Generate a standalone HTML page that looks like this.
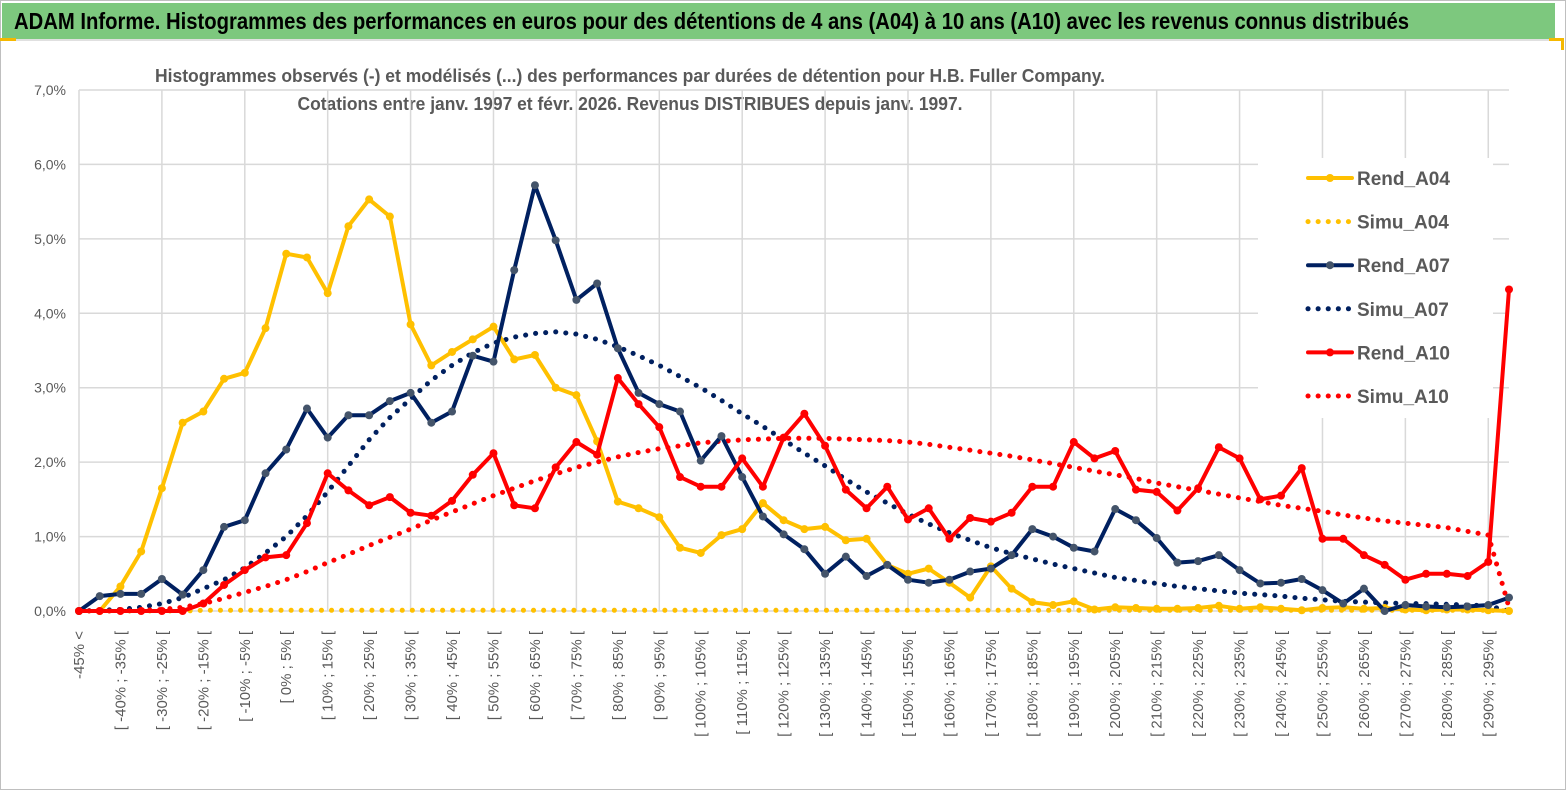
<!DOCTYPE html>
<html><head><meta charset="utf-8"><style>
body{margin:0;background:#fff;}
svg{display:block;font-family:"Liberation Sans",sans-serif;}
</style></head><body>
<svg id="chart" width="1567" height="791" viewBox="0 0 1567 791" xmlns="http://www.w3.org/2000/svg">
<rect x="0.5" y="0.5" width="1565" height="789" fill="#fff" stroke="#bfbfbf"/>
<rect x="2" y="3" width="1553" height="36" fill="#7dc87e"/>
<line x1="2" y1="40" x2="1555" y2="40" stroke="#e0e0e0" stroke-width="2"/>
<rect x="0" y="38" width="16" height="3" fill="#f5b800"/>
<rect x="1549" y="38" width="14" height="3" fill="#f5b800"/><rect x="1561" y="38" width="3" height="12" fill="#f5b800"/>
<text x="14" y="29" font-size="23" font-weight="bold" fill="#000" textLength="1395" lengthAdjust="spacingAndGlyphs">ADAM Informe. Histogrammes des performances en euros pour des détentions de 4 ans (A04) à 10 ans (A10) avec les revenus connus distribués</text>
<text x="630" y="82" font-size="18" font-weight="bold" fill="#595959" text-anchor="middle" textLength="950" lengthAdjust="spacingAndGlyphs">Histogrammes observés (-) et modélisés (...) des performances par durées de détention pour H.B. Fuller Company.</text>
<text x="630" y="110" font-size="18" font-weight="bold" fill="#595959" text-anchor="middle" textLength="665" lengthAdjust="spacingAndGlyphs">Cotations entre janv. 1997 et févr. 2026. Revenus DISTRIBUES depuis janv. 1997.</text>
<g id="grid"></g><g id="axes"></g>
<g id="legend"></g>
<g id="series"></g>
</svg>
<script>
const categories=[];
for(let k=0;k<70;k++){const lo=-50+5*k;categories.push(k===0?'-45% <':'[ '+lo+'% ; '+(lo+5)+'% [');}
const yTicks=[0,1,2,3,4,5,6,7];
const rendA04=[0,0,0.33,0.8,1.65,2.53,2.68,3.12,3.2,3.8,4.8,4.75,4.27,5.17,5.53,5.3,3.85,3.3,3.48,3.65,3.82,3.38,3.44,3.0,2.9,2.28,1.47,1.38,1.26,0.85,0.78,1.02,1.1,1.45,1.22,1.1,1.13,0.95,0.97,0.62,0.5,0.57,0.38,0.18,0.6,0.3,0.12,0.08,0.13,0.02,0.05,0.04,0.03,0.03,0.04,0.07,0.03,0.05,0.03,0.01,0.04,0.05,0.03,0.04,0.02,0.01,0.02,0.02,0.01,0.0];
const simuA04=[0,0,0,0,0,0,0.01,0.01,0.01,0.01,0.01,0.01,0.01,0.01,0.01,0.01,0.01,0.01,0.01,0.01,0.01,0.01,0.01,0.01,0.01,0.01,0.01,0.01,0.01,0.01,0.01,0.01,0.01,0.01,0.01,0.01,0.01,0.01,0.01,0.01,0.01,0.01,0.01,0.01,0.01,0.01,0.01,0.01,0.01,0.01,0.01,0.01,0.01,0.01,0.01,0.01,0.01,0.01,0.01,0.01,0.01,0.01,0.01,0.01,0.01,0.01,0.01,0.01,0.01,0.0];
const rendA07=[0,0.2,0.23,0.23,0.43,0.22,0.55,1.13,1.22,1.85,2.17,2.72,2.33,2.63,2.63,2.82,2.93,2.53,2.68,3.43,3.35,4.58,5.72,4.98,4.18,4.4,3.53,2.93,2.78,2.68,2.02,2.35,1.8,1.27,1.03,0.83,0.5,0.73,0.47,0.62,0.42,0.38,0.42,0.53,0.57,0.75,1.1,1.0,0.85,0.8,1.37,1.22,0.98,0.65,0.67,0.75,0.55,0.37,0.38,0.43,0.28,0.1,0.3,0.0,0.08,0.06,0.05,0.06,0.08,0.18];
const simuA07=[0,0.01,0.02,0.05,0.1,0.18,0.3,0.42,0.58,0.78,1.0,1.28,1.6,1.95,2.3,2.6,2.85,3.1,3.3,3.47,3.6,3.68,3.73,3.75,3.72,3.65,3.55,3.43,3.3,3.15,3.0,2.83,2.65,2.48,2.3,2.12,1.95,1.77,1.6,1.45,1.3,1.17,1.05,0.95,0.85,0.77,0.7,0.63,0.57,0.51,0.45,0.41,0.37,0.33,0.3,0.27,0.24,0.22,0.2,0.17,0.15,0.13,0.12,0.11,0.1,0.1,0.09,0.08,0.07,0.0];
const rendA10=[0,0,0,0,0,0,0.1,0.35,0.55,0.72,0.75,1.18,1.85,1.62,1.42,1.53,1.32,1.28,1.48,1.83,2.12,1.42,1.38,1.93,2.27,2.1,3.13,2.78,2.47,1.8,1.67,1.67,2.05,1.67,2.33,2.65,2.22,1.63,1.38,1.67,1.23,1.38,0.97,1.25,1.2,1.32,1.67,1.67,2.27,2.05,2.15,1.63,1.6,1.35,1.65,2.2,2.05,1.5,1.55,1.92,0.97,0.97,0.75,0.62,0.42,0.5,0.5,0.47,0.66,4.32];
const simuA10=[0,0,0,0.01,0.02,0.05,0.1,0.17,0.25,0.33,0.42,0.53,0.65,0.76,0.88,0.99,1.1,1.22,1.33,1.44,1.55,1.65,1.75,1.84,1.93,2.0,2.07,2.13,2.18,2.22,2.26,2.28,2.3,2.31,2.32,2.32,2.32,2.31,2.3,2.29,2.27,2.24,2.2,2.16,2.12,2.08,2.03,1.98,1.93,1.88,1.83,1.78,1.72,1.67,1.62,1.57,1.52,1.47,1.42,1.38,1.34,1.29,1.25,1.21,1.18,1.15,1.12,1.07,1.02,0.05];

const NS='http://www.w3.org/2000/svg';
const X0=79,X1=1509,Y0=611,YPER=74.43;
const xS=k=>X0+k*(X1-X0)/(categories.length-1);
const yS=v=>Y0-v*YPER;
function mk(tag,attrs,parent){const e=document.createElementNS(NS,tag);for(const a in attrs)e.setAttribute(a,attrs[a]);parent.appendChild(e);return e;}
const grid=document.getElementById('grid'),axes=document.getElementById('axes'),ser=document.getElementById('series'),leg=document.getElementById('legend');
yTicks.forEach(t=>{
  const l=mk('line',{x1:X0,x2:X1,y1:yS(t),y2:yS(t),stroke:'#d9d9d9','stroke-width':1.5},grid);
  
  
  const tx=mk('text',{x:66,y:yS(t)+5,'font-size':14,fill:'#595959','text-anchor':'end'},axes);
  tx.textContent=t.toFixed(1).replace('.',',')+'%';
  
  
});
for(let k=0;k<categories.length;k+=4){
  const l=mk('line',{x1:xS(k),x2:xS(k),y1:yS(7),y2:Y0,stroke:'#d9d9d9','stroke-width':1.5},grid);
  
  
}
for(let k=0;k<categories.length;k+=2){
  const tx=mk('text',{x:0,y:0,'font-size':15,fill:'#595959','text-anchor':'end',transform:'translate('+(xS(k)+5)+',631) rotate(-90)'},axes);
  tx.textContent=categories[k];
  
  
}
const series=[
 {n:'Rend_A04',d:rendA04,c:'#ffc000',dot:false,mc:'#ffc000'},
 {n:'Simu_A04',d:simuA04,c:'#ffc000',dot:true},
 {n:'Rend_A07',d:rendA07,c:'#002060',dot:false,mc:'#44546a'},
 {n:'Simu_A07',d:simuA07,c:'#002060',dot:true},
 {n:'Rend_A10',d:rendA10,c:'#ff0000',dot:false,mc:'#ff0000'},
 {n:'Simu_A10',d:simuA10,c:'#ff0000',dot:true}];
const draw=[1,3,5,0,2,4];
draw.forEach(i=>{const s=series[i];
  const pts=s.d.map((v,k)=>xS(k).toFixed(1)+','+yS(v).toFixed(1)).join(' ');
  const g=mk('g',{},ser);
  
  
  const pl=mk('polyline',{points:pts,fill:'none',stroke:s.c,'stroke-width':4,'stroke-linejoin':'round','stroke-linecap':'round'},g);
  if(s.dot){pl.setAttribute('stroke-dasharray','0.1 10');pl.setAttribute('stroke-width',5);}
  
  
  if(!s.dot){s.d.forEach((v,k)=>{
    const c=mk('circle',{cx:xS(k),cy:yS(v),r:4,fill:s.mc},g);
    
    
  });}
});
mk('rect',{x:1258,y:158,width:235,height:260,fill:'#fff'},leg);
series.forEach((s,i)=>{const y=178+i*43.6;
  const g=mk('g',{},leg);
  
  
  const l=mk('line',{x1:1308,x2:1352,y1:y,y2:y,stroke:s.c,'stroke-width':s.dot?5:4,'stroke-linecap':'round'},g);
  if(s.dot)l.setAttribute('stroke-dasharray','0.1 10');
  if(!s.dot)mk('circle',{cx:1330,cy:y,r:4,fill:s.mc},g);
  const t=mk('text',{x:1357,y:y+7,'font-size':19,'font-weight':'bold',fill:'#595959'},g);
  t.textContent=s.n;
});
</script>
</body></html>
